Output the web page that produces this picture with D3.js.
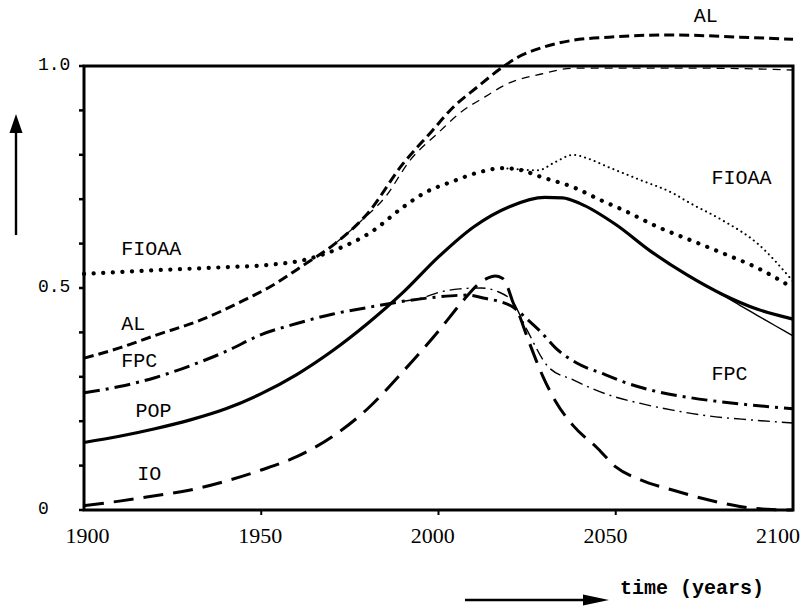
<!DOCTYPE html>
<html><head><meta charset="utf-8">
<script src="https://cdn.jsdelivr.net/npm/d3@7"></script>
<style>body{margin:0;background:#fff}svg{display:block}</style>
</head><body><svg id="c" width="809" height="607"></svg>
<script>
// ---- data ----
const xTickValues = [1900, 1950, 2000, 2050, 2100];
const xTickLabels = ["1900", "1950", "2000", "2050", "2100"];
const yTickValues = [1.0, 0.5, 0];
const yTickLabels = ["1.0", "0.5", "0"];

const popYears  = [1900,1910,1920,1930,1940,1950,1960,1970,1980,1990,2000,2010,2020,2030,2035,2040,2050,2060,2070,2080,2090,2100];
const popThick  = [0.152,0.166,0.183,0.203,0.228,0.262,0.305,0.358,0.420,0.490,0.570,0.638,0.683,0.704,0.703,0.690,0.643,0.582,0.530,0.486,0.452,0.430];
const popThinYears = [2070,2078,2085,2090,2095,2100];
const popThin      = [0.530,0.494,0.461,0.438,0.415,0.392];

const fioaaYears = [1900,1920,1940,1952,1962,1971,1981,1990,1996,2004,2012,2018,2023,2029,2038,2046,2052,2062,2071,2080,2090,2100];
const fioaaThick = [0.532,0.540,0.547,0.552,0.563,0.586,0.626,0.682,0.714,0.740,0.762,0.770,0.766,0.750,0.727,0.697,0.676,0.637,0.608,0.579,0.545,0.500];
const fioaaThinYears = [2018,2023,2028,2033,2038,2042,2048,2057,2066,2071,2080,2090,2100];
const fioaaThin      = [0.770,0.767,0.765,0.784,0.800,0.792,0.772,0.743,0.714,0.691,0.653,0.600,0.515];

const alYears  = [1900,1910,1920,1933,1945,1953,1962,1971,1980,1990,1998,2004,2011,2018,2022,2029,2038,2048,2066,2085,2100];
const alThick  = [0.342,0.365,0.393,0.428,0.472,0.505,0.552,0.601,0.668,0.780,0.852,0.906,0.953,0.997,1.018,1.041,1.058,1.065,1.070,1.065,1.060];
const alThinYears = [1971,1978,1985,1992,2000,2006,2013,2020,2029,2038,2057,2076,2100];
const alThin      = [0.601,0.650,0.705,0.788,0.850,0.894,0.930,0.962,0.982,0.995,0.995,0.995,0.991];

const fpcYears = [1900,1910,1920,1930,1940,1950,1960,1970,1980,1990,2000,2008,2013,2021,2025,2029,2033,2039,2047,2052,2062,2071,2085,2100];
const fpcThick = [0.264,0.278,0.298,0.325,0.357,0.395,0.420,0.441,0.456,0.470,0.480,0.484,0.477,0.457,0.430,0.400,0.365,0.331,0.305,0.289,0.266,0.253,0.239,0.228];
const fpcThinYears = [1990,1995,2001,2006,2012,2017,2021,2025,2031,2038,2047,2057,2066,2076,2088,2100];
const fpcThin      = [0.470,0.477,0.492,0.498,0.500,0.491,0.468,0.405,0.322,0.293,0.262,0.240,0.225,0.212,0.203,0.196];

const ioYears = [1900,1910,1920,1930,1940,1950,1960,1970,1980,1990,2000,2007,2011,2014,2016,2018,2019.5,2021,2022.5,2025,2029.5,2033,2038,2045,2050,2057,2066,2076,2085,2094,2100];
const ioThick = [0.010,0.020,0.032,0.045,0.065,0.090,0.120,0.165,0.228,0.312,0.403,0.472,0.507,0.523,0.527,0.522,0.502,0.468,0.444,0.390,0.300,0.245,0.190,0.138,0.097,0.068,0.045,0.023,0.008,0.001,0.000];

const curveLabels = ["FIOAA","AL","FPC","POP","IO","AL","FIOAA","FPC"];
const axisTitleX = "time (years)";

// ---- layout ----
const svg = d3.select("#c");
const x = d3.scaleLinear().domain([1900, 2100]).range([84, 793]);
const xLab = d3.scaleLinear().domain([1900, 2100]).range([87.5, 778]);
const y = d3.scaleLinear().domain([0, 1]).range([510, 66]);
const mono = "'Liberation Mono', 'DejaVu Sans Mono', monospace";
const serif = "'Liberation Serif', 'DejaVu Serif', serif";

const line = d3.line().x(d => x(d[0])).y(d => y(d[1])).curve(d3.curveMonotoneX);
const zip = (a, b) => a.map((v, i) => [v, b[i]]);

const styles = [
  {yrs: alThinYears,    v: alThin,     w: 1.3, dash: "8,6",        cap: "butt"},
  {yrs: fioaaThinYears, v: fioaaThin,  w: 2.0, dash: "0.1,5",      cap: "round"},
  {yrs: fpcThinYears,   v: fpcThin,    w: 1.4, dash: "12,5,2,5",   cap: "butt"},
  {yrs: popThinYears,   v: popThin,    w: 1.4, dash: null,         cap: "butt"},
  {yrs: popYears,       v: popThick,   w: 3.2, dash: null,         cap: "butt"},
  {yrs: fioaaYears,     v: fioaaThick, w: 4.2, dash: "0.1,9.5",    cap: "round"},
  {yrs: alYears,        v: alThick,    w: 3.0, dash: "10,5",       cap: "butt"},
  {yrs: fpcYears,       v: fpcThick,   w: 3.0, dash: "16,6,3,6",   cap: "butt"},
  {yrs: ioYears,        v: ioThick,    w: 3.0, dash: "20,10",      cap: "butt"}
];

styles.forEach(s => {
  svg.append("path")
    .attr("d", line(zip(s.yrs, s.v)))
    .attr("fill", "none").attr("stroke", "#000")
    .attr("stroke-width", s.w)
    .attr("stroke-dasharray", s.dash)
    .attr("stroke-linecap", s.cap)
    .attr("stroke-linejoin", "round");
});

// frame
svg.append("rect")
  .attr("x", x(1900)).attr("y", y(1)).attr("width", x(2100) - x(1900)).attr("height", y(0) - y(1))
  .attr("fill", "none").attr("stroke", "#000").attr("stroke-width", 3);

// y minor ticks (outward, left)
svg.append("g").selectAll("line").data(y.ticks(10)).join("line")
  .attr("x1", x(1900) - 5).attr("x2", x(1900))
  .attr("y1", d => y(d)).attr("y2", d => y(d))
  .attr("stroke", "#000").attr("stroke-width", 2.5);

// x ticks
svg.append("g").selectAll("line").data(xTickValues.slice(1, -1)).join("line")
  .attr("x1", d => x(d)).attr("x2", d => x(d))
  .attr("y1", y(0)).attr("y2", y(0) + 5)
  .attr("stroke", "#000").attr("stroke-width", 2);

// x tick labels
svg.append("g").selectAll("text").data(xTickValues).join("text")
  .attr("x", d => xLab(d)).attr("y", y(0) + 33)
  .attr("text-anchor", "middle")
  .attr("font-family", serif).attr("font-size", 22)
  .text((d, i) => xTickLabels[i]);

// y tick labels
svg.append("g").selectAll("text").data(yTickValues).join("text")
  .attr("x", 38).attr("y", d => y(d) + 4)
  .attr("font-family", mono).attr("font-size", 18)
  .text((d, i) => yTickLabels[i]);

// curve labels
const labelPos = [[1910.5, 0.575], [1910.5, 0.405], [1910.5, 0.322], [1914.5, 0.210], [1915, 0.068], [2072, 1.100], [2077, 0.735], [2077, 0.293]];
svg.append("g").selectAll("text").data(curveLabels).join("text")
  .attr("x", (d, i) => x(labelPos[i][0])).attr("y", (d, i) => y(labelPos[i][1]))
  .attr("font-family", mono).attr("font-size", 20)
  .text(d => d);

// arrows
svg.append("line").attr("x1", 16).attr("y1", 235).attr("x2", 16).attr("y2", 128)
  .attr("stroke", "#000").attr("stroke-width", 2.4);
svg.append("path").attr("d", "M16,114 L22.5,133 L9.5,133 Z").attr("fill", "#000");
svg.append("line").attr("x1", 465).attr("y1", 600).attr("x2", 590).attr("y2", 600)
  .attr("stroke", "#000").attr("stroke-width", 2.4);
svg.append("path").attr("d", "M609,600 L583,594.5 L583,605.5 Z").attr("fill", "#000");

svg.append("text").attr("x", 620).attr("y", 594)
  .attr("font-family", mono).attr("font-size", 20).attr("font-weight", "bold")
  .text(axisTitleX);
</script>
</body></html>
